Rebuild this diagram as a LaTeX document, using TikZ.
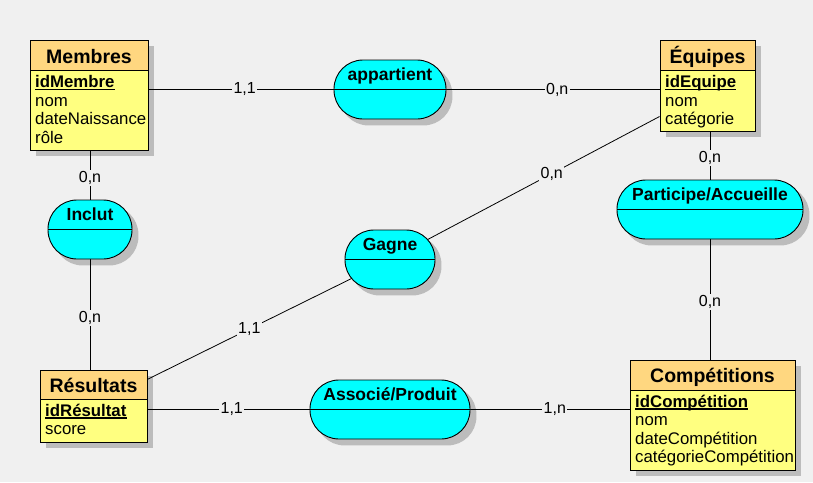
\documentclass[tikz,border=0pt]{standalone}
\usepackage{fontspec}
\setmainfont{Liberation Sans}
\usetikzlibrary{calc}
\pgfdeclarelayer{shadowlayer}
\pgfdeclarelayer{linelayer}
\pgfsetlayers{shadowlayer,linelayer,main}
\definecolor{bgc}{RGB}{240,240,240}
\definecolor{headc}{RGB}{255,215,128}
\definecolor{bodyc}{RGB}{255,255,128}
\definecolor{assocc}{RGB}{0,255,255}
\definecolor{shadowc}{RGB}{188,188,188}
\newcommand\mcdshadow[2]{\fill[shadowc, rounded corners=#2] ([shift={(6,6)}]#1.north west) rectangle ([shift={(6,6)}]#1.south east);}
\tikzset{
  entity/.style={draw=black, line width=0.9pt, fill=bodyc, inner sep=0pt,
    path picture={\fill[headc] (path picture bounding box.north west) rectangle ([yshift=-#1]path picture bounding box.north east);
      \draw[line width=0.9pt] ([yshift=-#1]path picture bounding box.north west) -- ([yshift=-#1]path picture bounding box.north east);}},
  entity/.default=30pt,
  assoc/.style={draw=black, line width=0.9pt, fill=assocc, rounded corners=29pt, inner sep=0pt,
    path picture={\draw[line width=0.9pt] (path picture bounding box.west) -- (path picture bounding box.east);}},
  etitle/.style={inner sep=0pt, anchor=base, font=\fontsize{19.5}{20}\selectfont\bfseries},
  atitle/.style={inner sep=0pt, anchor=base, font=\fontsize{17.5}{18}\selectfont\bfseries},
  attr/.style={inner sep=0pt, anchor=base west, font=\fontsize{16.8}{18}\selectfont},
  idline/.style={line width=1.3pt},
  conn/.style={draw=black, line width=0.8pt},
  lbl/.style={fill=bgc, inner sep=1.5pt, font=\fontsize{16}{16}\selectfont}
}
\begin{document}
\begin{tikzpicture}[x=1pt,y=-1pt]
\useasboundingbox (0,0) rectangle (813,482);
\begin{pgfonlayer}{shadowlayer}
\fill[bgc] (0,0) rectangle (813,482);
\end{pgfonlayer}

% entities
\node[entity, minimum width=118pt, minimum height=110pt] (membres) at (89,95) {};
\node[entity, minimum width=95pt, minimum height=91pt] (equipes) at (707.5,85.5) {};
\node[entity=29.5pt, minimum width=107pt, minimum height=72pt] (resultats) at (93.5,406) {};
\node[entity, minimum width=165pt, minimum height=110pt] (competitions) at (712.5,415) {};

% associations
\node[assoc, minimum width=112pt, minimum height=59pt] (appartient) at (390,89.5) {};
\node[assoc, minimum width=186pt, minimum height=59pt] (participe) at (710,209.5) {};
\node[assoc, minimum width=84pt, minimum height=59pt] (inclut) at (90,229.5) {};
\node[assoc, minimum width=90pt, minimum height=59pt] (gagne) at (390,259.5) {};
\node[assoc, minimum width=160pt, minimum height=59pt] (associe) at (390,409.5) {};

% shadows
\begin{pgfonlayer}{shadowlayer}
\mcdshadow{membres}{0pt}
\mcdshadow{equipes}{0pt}
\mcdshadow{resultats}{0pt}
\mcdshadow{competitions}{0pt}
\mcdshadow{appartient}{29pt}
\mcdshadow{participe}{29pt}
\mcdshadow{inclut}{29pt}
\mcdshadow{gagne}{29pt}
\mcdshadow{associe}{29pt}
\end{pgfonlayer}

% entity texts
\node[etitle] (membresT) at (89,63) {Membres};
\node[attr] (membresA1) at (35,87.5) {\bfseries idMembre};
\draw[idline] ([yshift=-2pt]membresA1.base west) -- ([yshift=-2pt]membresA1.base east);
\node[attr] (membresA2) at (35,106) {nom};
\node[attr] (membresA3) at (35,124.5) {dateNaissance};
\node[attr] (membresA4) at (35,143) {rôle};

\node[etitle] (equipesT) at (707.5,63) {Équipes};
\node[attr] (equipesA1) at (665,87.5) {\bfseries idEquipe};
\draw[idline] ([yshift=-2pt]equipesA1.base west) -- ([yshift=-2pt]equipesA1.base east);
\node[attr] (equipesA2) at (665,106) {nom};
\node[attr] (equipesA3) at (665,124.5) {catégorie};

\node[etitle] (resultatsT) at (93.5,392) {Résultats};
\node[attr] (resultatsA1) at (45,416) {\bfseries idRésultat};
\draw[idline] ([yshift=-2pt]resultatsA1.base west) -- ([yshift=-2pt]resultatsA1.base east);
\node[attr] (resultatsA2) at (45,434.5) {score};

\node[etitle] (competitionsT) at (712.5,382.5) {Compétitions};
\node[attr] (competitionsA1) at (635,407) {\bfseries idCompétition};
\draw[idline] ([yshift=-2pt]competitionsA1.base west) -- ([yshift=-2pt]competitionsA1.base east);
\node[attr] (competitionsA2) at (635,425.5) {nom};
\node[attr] (competitionsA3) at (635,444) {dateCompétition};
\node[attr] (competitionsA4) at (635,462.5) {catégorieCompétition};

% association texts
\node[atitle] (appartientT) at (390,80.5) {appartient};
\node[atitle] (participeT) at (710,200.5) {Participe/Accueille};
\node[atitle] (inclutT) at (90,220.5) {Inclut};
\node[atitle] (gagneT) at (390,250.5) {Gagne};
\node[atitle] (associeT) at (390,400.5) {Associé/Produit};

% connectors
\begin{pgfonlayer}{linelayer}
\draw[conn] (appartient.west -| membres.east) -- (appartient.west) node[lbl, pos=0.52] {1,1};
\draw[conn] (appartient.east) -- (appartient.east -| equipes.west) node[lbl, pos=0.52] {0,n};
\draw[conn] (inclut.north |- membres.south) -- (inclut.north) node[lbl, pos=0.56] {0,n};
\draw[conn] (inclut.south) -- (inclut.south |- resultats.north) node[lbl, pos=0.53] {0,n};
\draw[conn] (resultats) -- (gagne.center) node[lbl, pos=0.42] {1,1};
\draw[conn] (gagne.center) -- ([yshift=-31pt]equipes.west) node[lbl, pos=0.6] {0,n};
\draw[conn] (participe.north |- equipes.south) -- (participe.north) node[lbl, pos=0.55] {0,n};
\draw[conn] (participe.south) -- (participe.south |- competitions.north) node[lbl, pos=0.52] {0,n};
\draw[conn] (associe.west -| resultats.east) -- (associe.west) node[lbl, pos=0.52] {1,1};
\draw[conn] (associe.east) -- (associe.east -| competitions.west) node[lbl, pos=0.53] {1,n};
\end{pgfonlayer}
\end{tikzpicture}
\end{document}
